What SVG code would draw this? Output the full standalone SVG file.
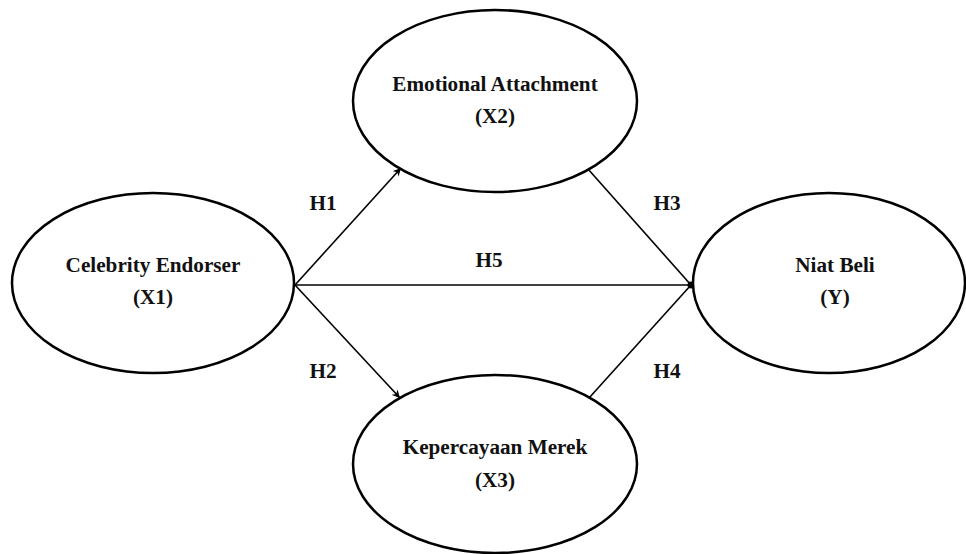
<svg xmlns="http://www.w3.org/2000/svg" width="966" height="554" viewBox="0 0 966 554">
<style>
.n{fill:#fff;stroke:#000;stroke-width:2.5}
.t{font-family:"Liberation Serif","Times New Roman",serif;font-weight:bold;font-size:21.2px;fill:#111;text-anchor:middle}
.c{stroke:#000;stroke-width:1.6;fill:none}
</style>
<defs>
<marker id="a" viewBox="0 0 10 10" refX="10" refY="5" markerWidth="8" markerHeight="8" markerUnits="userSpaceOnUse" orient="auto">
<path d="M0,0 L10,5 L0,10 L3,5 z" fill="#000"/>
</marker>
</defs>
<g id="connectors">
<line class="c" x1="295" y1="285" x2="401" y2="168" marker-end="url(#a)"/>
<line class="c" x1="295" y1="285" x2="400" y2="398" marker-end="url(#a)"/>
<line class="c" x1="295" y1="285" x2="691" y2="285"/>
<line class="c" x1="588" y1="169" x2="691" y2="285"/>
<line class="c" x1="589" y1="398" x2="691" y2="285"/>
<circle cx="691" cy="285" r="3.5" fill="#000"/>
<text class="t" x="323" y="210">H1</text>
<text class="t" x="323" y="378">H2</text>
<text class="t" x="667" y="210">H3</text>
<text class="t" x="667" y="378">H4</text>
<text class="t" x="489" y="267">H5</text>
</g>
<g id="x1">
<ellipse class="n" cx="153" cy="283" rx="141" ry="90"/>
<text class="t" x="153" y="272">Celebrity Endorser</text>
<text class="t" x="153" y="304">(X1)</text>
</g>
<g id="x2">
<ellipse class="n" cx="495" cy="101" rx="142" ry="91"/>
<text class="t" x="495" y="91">Emotional Attachment</text>
<text class="t" x="495" y="123">(X2)</text>
</g>
<g id="x3">
<ellipse class="n" cx="495" cy="464" rx="142" ry="89"/>
<text class="t" x="495" y="454">Kepercayaan Merek</text>
<text class="t" x="495" y="487">(X3)</text>
</g>
<g id="y">
<ellipse class="n" cx="829" cy="283" rx="136" ry="90"/>
<text class="t" x="835" y="272">Niat Beli</text>
<text class="t" x="835" y="304">(Y)</text>
</g>
</svg>
